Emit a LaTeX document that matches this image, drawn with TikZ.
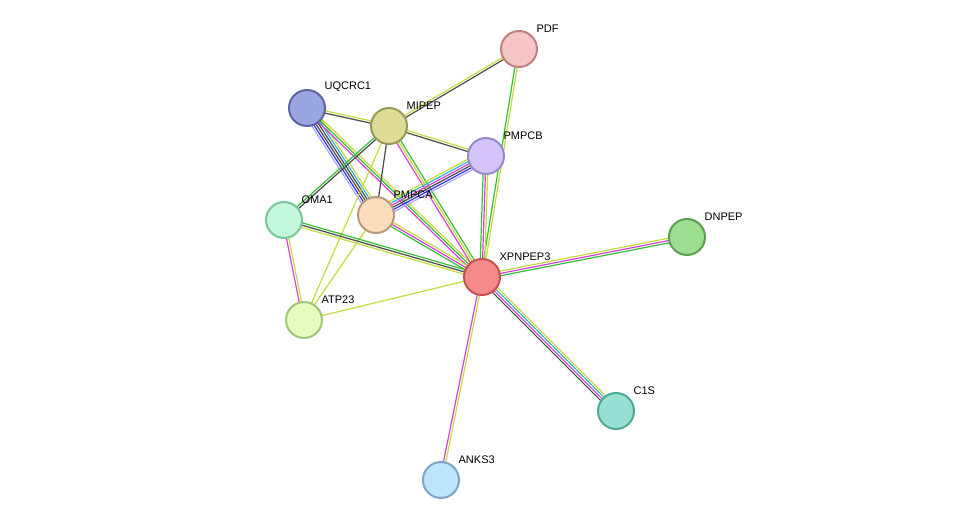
\documentclass[tikz,border=0pt]{standalone}
\usepackage{fontspec}
\setmainfont{Liberation Sans}
\usetikzlibrary{calc}
\definecolor{egreen}{HTML}{33C033}
\definecolor{emag}{HTML}{D63FD6}
\definecolor{eyel}{HTML}{C4DC3A}
\definecolor{egrey}{HTML}{4A4A4A}
\definecolor{eblue}{HTML}{3030F0}
\definecolor{elblue}{HTML}{A8A8FF}
\definecolor{ecyan}{HTML}{30B4D8}
\newcommand\linkedge[4]{%
  \foreach \c [count=\i] in {#4}{
    \pgfmathsetmacro\off{(\i-1-(#3-1)/2)*2.3}
    \draw[\c, line width=1.2pt] ($(#1)!\off pt!90:(#2)$) -- ($(#2)!\off pt!-90:(#1)$);
  }}
\begin{document}
\begin{tikzpicture}[x=1pt, y=-1pt,
    prot/.style={circle, minimum size=36pt, inner sep=0pt, line width=2pt},
    lbl/.style={anchor=south west, inner sep=0pt, xshift=4pt, yshift=3pt, font=\fontsize{11}{12}\selectfont}]
    \useasboundingbox (0,0) rectangle (975,526);
    % Positions
    \coordinate (pdf) at (519,49);
    \coordinate (uqcrc) at (307,108);
    \coordinate (mipep) at (389,126);
    \coordinate (pmpcb) at (486,156);
    \coordinate (oma) at (284,220);
    \coordinate (pmpca) at (376,215);
    \coordinate (dnpep) at (687,237);
    \coordinate (xpn) at (482,277);
    \coordinate (atp) at (304,320);
    \coordinate (cls) at (616,411);
    \coordinate (anks) at (441,480);

    % Edges
    \linkedge{pdf}{mipep}{2}{eyel,egrey}
    \linkedge{pdf}{xpn}{2}{egreen,eyel}
    \linkedge{uqcrc}{mipep}{2}{egrey,eyel}
    \linkedge{uqcrc}{pmpca}{6}{elblue,eblue,egrey,egrey,ecyan,eyel}
    \linkedge{uqcrc}{xpn}{3}{emag,egreen,eyel}
    \linkedge{mipep}{pmpcb}{2}{egrey,eyel}
    \linkedge{mipep}{xpn}{3}{emag,eyel,egreen}
    \linkedge{mipep}{oma}{2}{egreen,egrey}
    \linkedge{mipep}{pmpca}{1}{egrey}
    \linkedge{mipep}{atp}{1}{eyel}
    \linkedge{pmpca}{pmpcb}{6}{elblue,eblue,egrey,emag,ecyan,eyel}
    \linkedge{pmpca}{xpn}{3}{egreen,emag,eyel}
    \linkedge{pmpca}{atp}{1}{eyel}
    \linkedge{pmpcb}{xpn}{3}{egreen,emag,eyel}
    \linkedge{oma}{xpn}{3}{eyel,egrey,egreen}
    \linkedge{oma}{atp}{2}{emag,eyel}
    \linkedge{atp}{xpn}{1}{eyel}
    \linkedge{xpn}{dnpep}{3}{egreen,emag,eyel}
    \linkedge{xpn}{cls}{4}{egrey,emag,ecyan,eyel}
    \linkedge{xpn}{anks}{2}{emag,eyel}

    % Nodes
    \node (PDF) [prot, draw={rgb,255:red,192;green,128;blue,128}, fill={rgb,255:red,246;green,198;blue,198}, label={[lbl]north east:PDF}] at (pdf) {};
    \node (UQCRC1) [prot, draw={rgb,255:red,90;green,102;blue,166}, fill={rgb,255:red,154;green,166;blue,224}, label={[lbl]north east:UQCRC1}] at (uqcrc) {};
    \node (MIPEP) [prot, draw={rgb,255:red,154;green,152;blue,88}, fill={rgb,255:red,223;green,220;blue,152}, label={[lbl]north east:MIPEP}] at (mipep) {};
    \node (PMPCB) [prot, draw={rgb,255:red,154;green,136;blue,200}, fill={rgb,255:red,212;green,196;blue,250}, label={[lbl]north east:PMPCB}] at (pmpcb) {};
    \node (OMA1) [prot, draw={rgb,255:red,124;green,196;blue,154}, fill={rgb,255:red,196;green,248;blue,220}, label={[lbl]north east:OMA1}] at (oma) {};
    \node (PMPCA) [prot, draw={rgb,255:red,184;green,154;blue,120}, fill={rgb,255:red,253;green,220;blue,188}, label={[lbl]north east:PMPCA}] at (pmpca) {};
    \node (DNPEP) [prot, draw={rgb,255:red,92;green,160;blue,80}, fill={rgb,255:red,158;green,222;blue,144}, label={[lbl]north east:DNPEP}] at (dnpep) {};
    \node (XPNPEP3) [prot, draw={rgb,255:red,200;green,80;blue,80}, fill={rgb,255:red,244;green,138;blue,138}, label={[lbl]north east:XPNPEP3}] at (xpn) {};
    \node (ATP23) [prot, draw={rgb,255:red,164;green,196;blue,124}, fill={rgb,255:red,228;green,252;blue,188}, label={[lbl]north east:ATP23}] at (atp) {};
    \node (C1S) [prot, draw={rgb,255:red,80;green,168;blue,152}, fill={rgb,255:red,152;green,224;blue,212}, label={[lbl]north east:C1S}] at (cls) {};
    \node (ANKS3) [prot, draw={rgb,255:red,124;green,164;blue,200}, fill={rgb,255:red,188;green,228;blue,250}, label={[lbl]north east:ANKS3}] at (anks) {};
\end{tikzpicture}
\end{document}
